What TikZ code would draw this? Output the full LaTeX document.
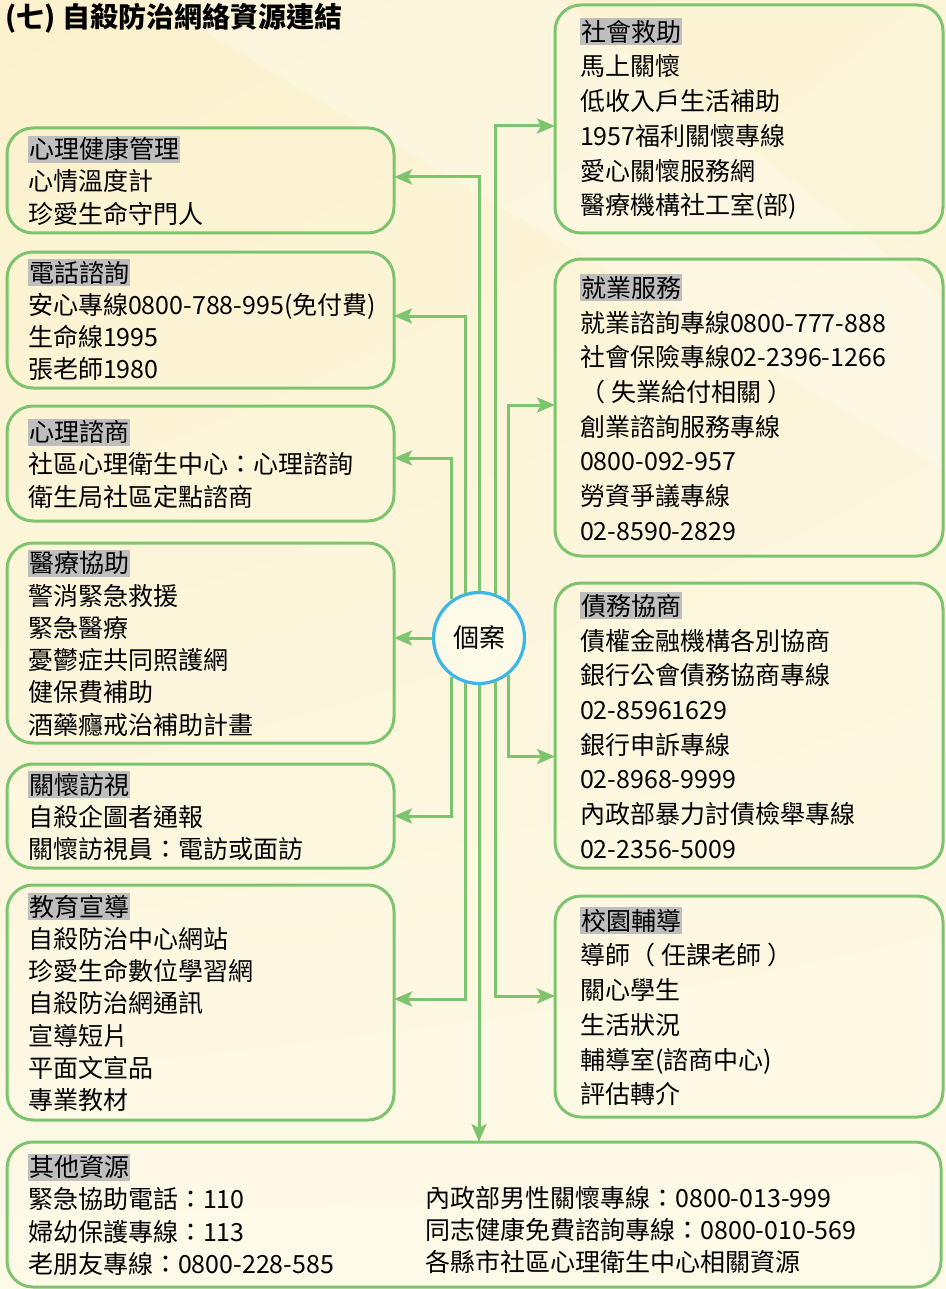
\documentclass[tikz,border=0pt]{standalone}
\usepackage{fontspec}
\setmainfont{Noto Sans CJK TC}
\usepackage{xcolor}
\usetikzlibrary{arrows.meta, positioning, calc, shadings}

\definecolor{linegreen}{HTML}{7DC46E}
\definecolor{ringblue}{HTML}{3AB6E8}
\definecolor{headgray}{HTML}{BEBEBE}
\definecolor{paper}{HTML}{FEFAE8}
\definecolor{paperdeep}{HTML}{FCF1CC}

\newcommand{\reshead}[1]{{\setlength{\fboxsep}{0.5pt}\colorbox{headgray}{\rule[-0.12em]{0pt}{1em}#1}}}

\begin{document}
\begin{tikzpicture}[
        x=0.5pt, y=-0.5pt,
        resbox/.style={
            rectangle,
            draw=linegreen,
            line width=1.5pt,
            rounded corners=13pt,
            anchor=north west,
            outer sep=0pt,
            inner ysep=0pt,
            align=left
        },
        leftbox/.style={resbox, text width=172.5pt, inner xsep=10.5pt, font=\fontsize{12.5}{16.15}\selectfont},
        rightbox/.style={resbox, text width=169pt, inner xsep=12.5pt, font=\fontsize{12.5}{17.35}\selectfont},
        link/.style={draw=linegreen, line width=1.5pt, -{Stealth[length=9pt,width=7.5pt,inset=2pt]}}
    ]
        % Background
        \useasboundingbox (0,0) rectangle (946,1289);
        \shade[upper left=paperdeep, upper right=paperdeep!60!paper, lower left=paper, lower right=paper] (0,0) rectangle (946,1289);
        \fill[white, opacity=0.25] (150,0) -- (560,0) -- (946,300) -- (946,470) -- cycle;

        % Title
        \node[anchor=west, inner sep=0pt, font=\fontsize{14}{16}\selectfont\bfseries] (title) at (5,18) {(七) 自殺防治網絡資源連結};

        % Center
        \node[circle, draw=ringblue, line width=1.6pt, fill=paper, minimum size=45.5pt, inner sep=0pt, font=\fontsize{13}{15}\selectfont] (case) at (479,638) {個案};

        % Left column
        \node[leftbox, minimum height=52.5pt] (mental_health) at (7,128) {\reshead{心理健康管理}\\心情溫度計\\珍愛生命守門人};
        \node[leftbox, minimum height=68pt] (phone_line) at (7,252) {\reshead{電話諮詢}\\\mbox{安心專線0800-788-995(免付費)}\\生命線1995\\張老師1980};
        \node[leftbox, minimum height=57.5pt] (counseling) at (7,406) {\reshead{心理諮商}\\社區心理衛生中心：心理諮詢\\衛生局社區定點諮商};
        \node[leftbox, minimum height=100pt] (medical_aid) at (7,543) {\reshead{醫療協助}\\警消緊急救援\\緊急醫療\\憂鬱症共同照護網\\健保費補助\\酒藥癮戒治補助計畫};
        \node[leftbox, minimum height=52pt] (care_visit) at (7,764) {\reshead{關懷訪視}\\自殺企圖者通報\\關懷訪視員：電訪或面訪};
        \node[leftbox, minimum height=117.5pt] (education) at (7,885) {\reshead{教育宣導}\\自殺防治中心網站\\珍愛生命數位學習網\\自殺防治網通訊\\宣導短片\\平面文宣品\\專業教材};

        % Right column
        \node[rightbox, minimum height=114pt] (social_aid) at (555,5) {\reshead{社會救助}\\馬上關懷\\低收入戶生活補助\\1957福利關懷專線\\愛心關懷服務網\\醫療機構社工室(部)};
        \node[rightbox, minimum height=148.5pt] (employment) at (555,259) {\reshead{就業服務}\\\mbox{就業諮詢專線0800-777-888}\\\mbox{社會保險專線02-2396-1266}\\（\kern3pt 失業給付相關\kern3pt ）\\創業諮詢服務專線\\0800-092-957\\勞資爭議專線\\02-8590-2829};
        \node[rightbox, minimum height=142.5pt] (debt_talks) at (555,583) {\reshead{債務協商}\\債權金融機構各別協商\\銀行公會債務協商專線\\02-85961629\\銀行申訴專線\\02-8968-9999\\內政部暴力討債檢舉專線\\02-2356-5009};
        \node[rightbox, minimum height=110.5pt] (campus) at (555,896) {\reshead{校園輔導}\\導師（\kern3pt 任課老師\kern3pt ）\\關心學生\\生活狀況\\輔導室(諮商中心)\\評估轉介};

        % Bottom
        \node[leftbox, text width=446pt, minimum height=72.5pt] (other_res) at (7,1142) {\reshead{其他資源}\\緊急協助電話：110\\婦幼保護專線：113\\老朋友專線：0800-228-585};
        \node[anchor=west, inner sep=0pt, align=left, font=\fontsize{12.5}{16.1}\selectfont] (other_more) at (425,1230) {內政部男性關懷專線：0800-013-999\\同志健康免費諮詢專線：0800-010-569\\各縣市社區心理衛生中心相關資源};

        % Connections
        \draw[link] (case.north) |- ([yshift=1.75pt]mental_health.east);
        \draw[link] (case.107) |- ([yshift=2pt]phone_line.east);
        \draw[link] (case.125) |- ([yshift=2.75pt]counseling.east);
        \draw[link] (case.west) -- (case.west -| medical_aid.east);
        \draw[link] (case.-125) |- (care_visit.east);
        \draw[link] (case.-107) |- ([yshift=1.75pt]education.east);

        \draw[link] (case.70) |- ([yshift=-3.5pt]social_aid.west);
        \draw[link] (case.52) |- ([yshift=1.25pt]employment.west);
        \draw[link] (case.-52) |- ([yshift=-15.5pt]debt_talks.west);
        \draw[link] (case.-70) |- ([yshift=5.25pt]campus.west);

        \draw[link] (case.south) -- (case.south |- other_res.north);
    \end{tikzpicture}
\end{document}
